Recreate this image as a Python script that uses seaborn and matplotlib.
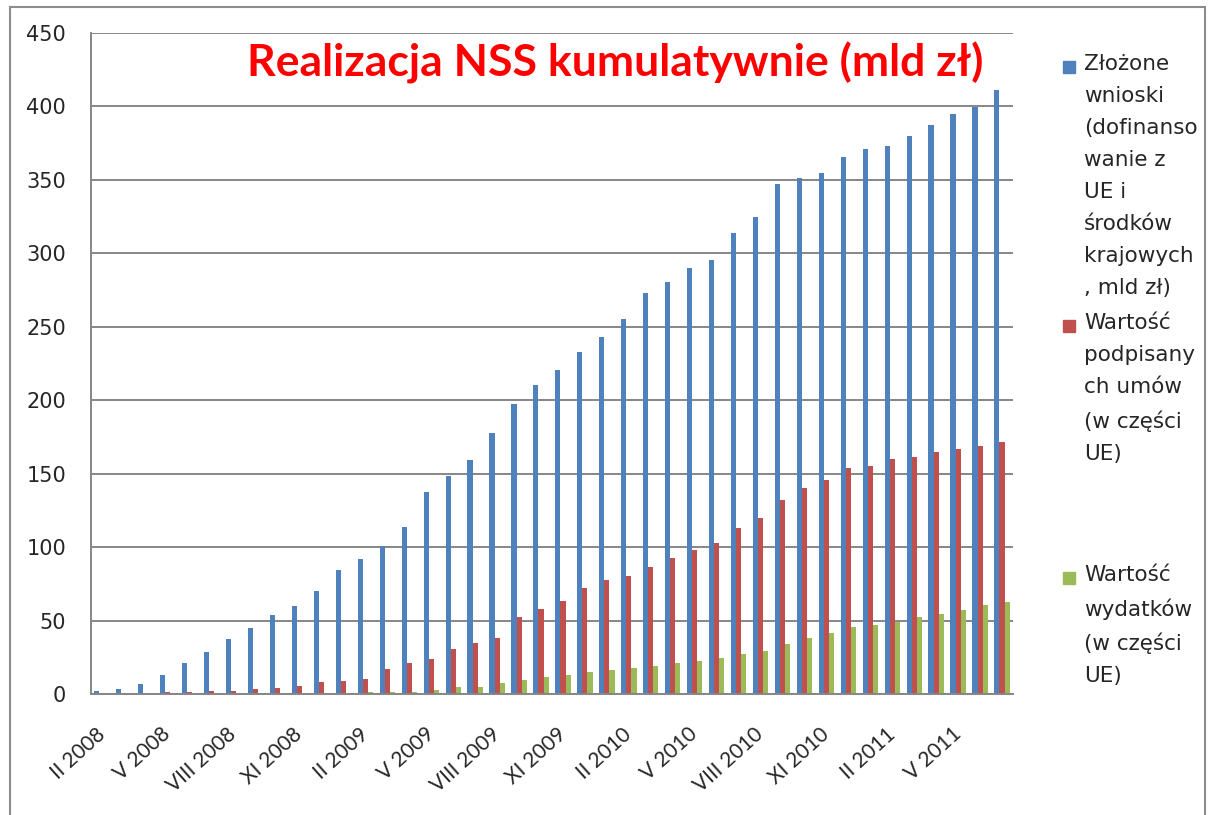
import numpy as np
import pandas as pd
import matplotlib
matplotlib.use("Agg")
import matplotlib.pyplot as plt
from matplotlib.patches import Rectangle
import seaborn as sns

sns.set_style("white")
plt.rcParams['font.family'] = ['DejaVu Sans']

# months II 2008 .. VII 2011
months = ["II 2008", "III 2008", "IV 2008", "V 2008", "VI 2008", "VII 2008", "VIII 2008",
          "IX 2008", "X 2008", "XI 2008", "XII 2008",
          "I 2009", "II 2009", "III 2009", "IV 2009", "V 2009", "VI 2009", "VII 2009",
          "VIII 2009", "IX 2009", "X 2009", "XI 2009", "XII 2009",
          "I 2010", "II 2010", "III 2010", "IV 2010", "V 2010", "VI 2010", "VII 2010",
          "VIII 2010", "IX 2010", "X 2010", "XI 2010", "XII 2010",
          "I 2011", "II 2011", "III 2011", "IV 2011", "V 2011", "VI 2011", "VII 2011"]

wnioski = [1.8, 3.4, 6.8, 13.0, 20.8, 28.5, 37.7, 44.7, 53.7, 59.8, 70.1,
           84.5, 91.8, 100.7, 113.7, 137.8, 148.4, 159.3, 177.5, 197.4, 210.2, 220.8,
           232.8, 243.2, 255.2, 272.9, 280.2, 290.1, 295.4, 313.6, 324.5, 347.0,
           351.0, 354.5, 365.5, 370.8, 373.4, 379.7, 387.1, 394.6, 399.5, 411.5]
umowy = [0.2, 0.5, 0.9, 1.1, 1.1, 2.1, 2.3, 3.2, 4.3, 5.5, 8.2,
         9.1, 10.5, 16.7, 21.0, 24.0, 30.3, 35.0, 38.0, 52.7, 58.2, 63.2,
         72.3, 77.7, 80.2, 86.4, 92.7, 98.0, 103.0, 113.2, 119.7, 132.0,
         140.3, 145.5, 153.8, 155.5, 159.8, 161.5, 164.7, 166.7, 168.7, 171.5]
wydatki = [0, 0, 0, 0, 0, 0, 0, 0, 0, 0, 0.5,
           0.9, 1.1, 1.6, 1.7, 2.7, 5.0, 4.8, 7.3, 9.8, 11.4, 13.0,
           15.2, 16.1, 17.5, 19.3, 21.4, 22.7, 24.4, 26.9, 29.2, 34.1,
           38.1, 41.5, 45.5, 47.0, 49.3, 52.4, 54.4, 57.3, 60.7, 62.7]

series_names = ["Złożone\nwnioski\n(dofinanso\nwanie z\nUE i\nśrodków\nkrajowych\n, mld zł)",
                "Wartość\npodpisany\nch umów\n(w części\nUE)",
                "Wartość\nwydatków\n(w części\nUE)"]
colors = ["#4F81BD", "#C0504D", "#9BBB59"]

df = pd.concat([
    pd.DataFrame({"miesiac": months, "wartosc": vals, "seria": name})
    for name, vals in zip(series_names, [wnioski, umowy, wydatki])
])

fig = plt.figure(figsize=(12.12, 8.15), dpi=100)
ax = fig.add_axes([91 / 1212, 1 - 694 / 815, 922 / 1212, 661 / 815])

sns.barplot(data=df, x="miesiac", y="wartosc", hue="seria", order=months,
            hue_order=series_names, palette=colors, saturation=1,
            width=0.7, linewidth=0, legend=False, ax=ax)

grid_c = "#868686"
ax.set_ylim(0, 450)
ax.set_xlim(-0.5, len(months) - 0.5)
ax.set_yticks(np.arange(0, 451, 50))
ax.yaxis.grid(True, color=grid_c, lw=1.4)
ax.set_axisbelow(True)
for s in ["top", "right"]:
    ax.spines[s].set_visible(False)
for s in ["left", "bottom"]:
    ax.spines[s].set_color(grid_c)
    ax.spines[s].set_linewidth(1.4)
ax.tick_params(axis="y", length=5, color=grid_c, width=1.2, pad=13, labelsize=15)

# ticks between categories, labels on every third month
ax.set_xticks(np.arange(-0.5, len(months), 1))
ax.set_xticklabels([])
ax.set_xticks(np.arange(0, len(months), 3), minor=True)
ax.set_xticklabels(months[::3], minor=True, rotation=42, ha="right", va="center",
                   rotation_mode="anchor", fontsize=15, family="Lato")
ax.tick_params(axis="x", which="major", length=5, color=grid_c, width=1.2)
ax.tick_params(axis="x", which="minor", length=0, pad=27)
ax.set_xlabel("")
ax.set_ylabel("")

ax.text(0.569, 0.955, "Realizacja NSS kumulatywnie (mld zł)", transform=ax.transAxes,
        ha="center", va="center", color="#FF0000", fontsize=32, fontweight="bold",
        family="Lato")

# legend on the right
legend_y = [67, 326, 578]
for name, col, y in zip(series_names, colors, legend_y):
    fig.add_artist(Rectangle((1063 / 1212, 1 - (y + 6) / 815), 12 / 1212, 12 / 815,
                             transform=fig.transFigure, color=col))
    fig.text(1084 / 1212, 1 - (y - 13) / 815, name, ha="left", va="top",
             fontsize=15.5, linespacing=1.75)

# chart border
fig.add_artist(Rectangle((10 / 1212, -0.05), 1195 / 1212, 1.05 - 7 / 815,
                         transform=fig.transFigure, fill=False, edgecolor="#8c8c8c", lw=1.5))

fig.savefig("out.png", dpi=100)
